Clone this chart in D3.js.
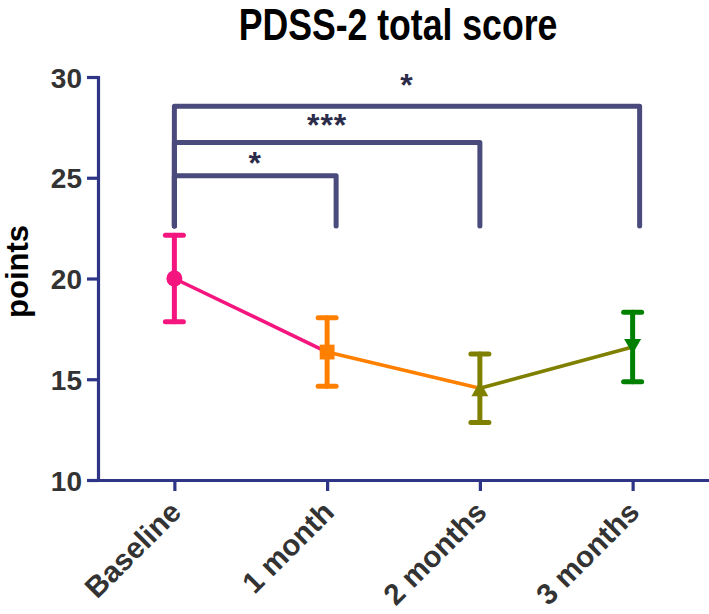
<!DOCTYPE html>
<html>
<head>
<meta charset="utf-8">
<script src="https://cdn.jsdelivr.net/npm/d3@7"></script>
<style>
  html, body { margin: 0; padding: 0; background: #fff; }
  svg { display: block; }
</style>
</head>
<body>
<svg id="chart" width="709" height="614"></svg>
<script>
// ---- data ----
const categories = ["Baseline", "1 month", "2 months", "3 months"];
const means = [20.0, 16.35, 14.55, 16.6];
const errors = [2.15, 1.7, 1.7, 1.72];
const yTicks = [10, 15, 20, 25, 30];
const pointColors = ["#F5157F", "#FF8000", "#808000", "#008000"];
const markerShapes = ["circle", "square", "triangleUp", "triangleDown"];
// brackets: from / to category index, level, label
const bracketFrom = [0, 0, 0];
const bracketTo = [1, 2, 3];
const bracketY = [25.1, 26.75, 28.55];
const bracketLabels = ["*", "***", "*"];
const bracketLegBottom = 22.6;

const title = "PDSS-2 total score";
const yLabel = "points";

// ---- layout ----
const mLeft = 98, mRight = 709, mTop = 77, mBottom = 480;
const svg = d3.select("#chart");

const x = d3.scalePoint().domain(categories).range([mLeft, mRight]).padding(0.5);
const y = d3.scaleLinear().domain([10, 30]).range([mBottom, mTop]);

const axisColor = "#2E3586";
const bracketColor = "#4A4B7C";
const textColor = "#333333";
const fontMain = "'Liberation Sans', Arial, Helvetica, sans-serif";

// title (condensed look)
svg.append("text")
  .attr("transform", "translate(398,40) scale(0.81,1)")
  .attr("text-anchor", "middle")
  .style("font-family", fontMain)
  .style("font-weight", "bold")
  .style("font-size", "44px")
  .attr("fill", "#000")
  .text(title);

// y axis
const yAxis = d3.axisLeft(y).tickValues(yTicks).tickSizeOuter(0).tickSize(11).tickPadding(4);
const gy = svg.append("g").attr("transform", `translate(${mLeft},0)`).call(yAxis);
gy.select(".domain").attr("stroke", axisColor).attr("stroke-width", 3.2);
gy.selectAll(".tick line").attr("stroke", axisColor).attr("stroke-width", 3.2);
gy.selectAll(".tick text")
  .attr("fill", textColor)
  .style("font-family", fontMain)
  .style("font-weight", "bold")
  .style("font-size", "28px")
  .attr("x", -16)
  .attr("dy", "0.36em");

// x axis
const xAxis = d3.axisBottom(x).tickSizeOuter(0).tickSize(11).tickPadding(4);
const gx = svg.append("g").attr("transform", `translate(0,${mBottom})`).call(xAxis);
gx.select(".domain").attr("d", `M${mLeft - 1.6},0.5H${mRight}`).attr("stroke", axisColor).attr("stroke-width", 3.2);
gx.selectAll(".tick line").attr("stroke", axisColor).attr("stroke-width", 3.2);
gx.selectAll(".tick text")
  .attr("fill", textColor)
  .style("font-family", fontMain)
  .style("font-weight", "bold")
  .style("font-size", "29.5px")
  .attr("text-anchor", "end")
  .attr("y", 0)
  .attr("dy", 0)
  .attr("transform", "translate(8,34) rotate(-45)");

// y label
svg.append("text")
  .attr("transform", `translate(28,${y(20.35)}) rotate(-90)`)
  .attr("text-anchor", "middle")
  .style("font-family", fontMain)
  .style("font-weight", "bold")
  .style("font-size", "31px")
  .attr("fill", "#000")
  .text(yLabel);

// brackets
const bracketXOffset = [0, 9, 0, 7];
const starOffset = [-2, -6, -10];
const bg = svg.append("g");
bracketY.forEach((bv, i) => {
  const x1 = x(categories[bracketFrom[i]]) + bracketXOffset[bracketFrom[i]];
  const x2 = x(categories[bracketTo[i]]) + bracketXOffset[bracketTo[i]];
  bg.append("path")
    .attr("d", `M${x1},${y(bracketLegBottom)}V${y(bv)}H${x2}V${y(bracketLegBottom)}`)
    .attr("fill", "none")
    .attr("stroke", bracketColor)
    .attr("stroke-width", 5)
    .attr("stroke-linecap", "round")
    .attr("stroke-linejoin", "round");
  bg.append("text")
    .attr("x", (x1 + x2) / 2)
    .attr("y", y(bv) + starOffset[i])
    .attr("text-anchor", "middle")
    .style("font-family", fontMain)
    .style("font-weight", "bold")
    .style("font-size", "32px")
    .style("letter-spacing", "1px")
    .attr("fill", "#2B2B4A")
    .text(bracketLabels[i]);
});

// connecting line segments (coloured by start point)
const lg = svg.append("g");
for (let i = 0; i < categories.length - 1; i++) {
  lg.append("line")
    .attr("x1", x(categories[i])).attr("y1", y(means[i]))
    .attr("x2", x(categories[i + 1])).attr("y2", y(means[i + 1]))
    .attr("stroke", pointColors[i])
    .attr("stroke-width", 3.6);
}

// error bars
const eg = svg.append("g");
categories.forEach((c, i) => {
  const cx = x(c);
  const g = eg.append("g").attr("stroke", pointColors[i]).attr("stroke-width", 5).attr("stroke-linecap", "round");
  g.append("line").attr("x1", cx).attr("x2", cx).attr("y1", y(means[i] + errors[i])).attr("y2", y(means[i] - errors[i]));
  g.append("line").attr("x1", cx - 9).attr("x2", cx + 9).attr("y1", y(means[i] + errors[i])).attr("y2", y(means[i] + errors[i]));
  g.append("line").attr("x1", cx - 9).attr("x2", cx + 9).attr("y1", y(means[i] - errors[i])).attr("y2", y(means[i] - errors[i]));
});

// markers
const symbolFor = s => {
  if (s === "circle") return d3.symbol().type(d3.symbolCircle).size(200)();
  if (s === "square") return d3.symbol().type(d3.symbolSquare).size(220)();
  return d3.symbol().type(d3.symbolTriangle).size(125)();
};
const mg = svg.append("g");
categories.forEach((c, i) => {
  const rot = markerShapes[i] === "triangleDown" ? 180 : 0;
  const dy = markerShapes[i] === "triangleUp" ? 3 : (markerShapes[i] === "triangleDown" ? -3 : 0);
  mg.append("path")
    .attr("d", symbolFor(markerShapes[i]))
    .attr("transform", `translate(${x(c)},${y(means[i]) + dy}) rotate(${rot})`)
    .attr("fill", pointColors[i]);
});
</script>
</body>
</html>
